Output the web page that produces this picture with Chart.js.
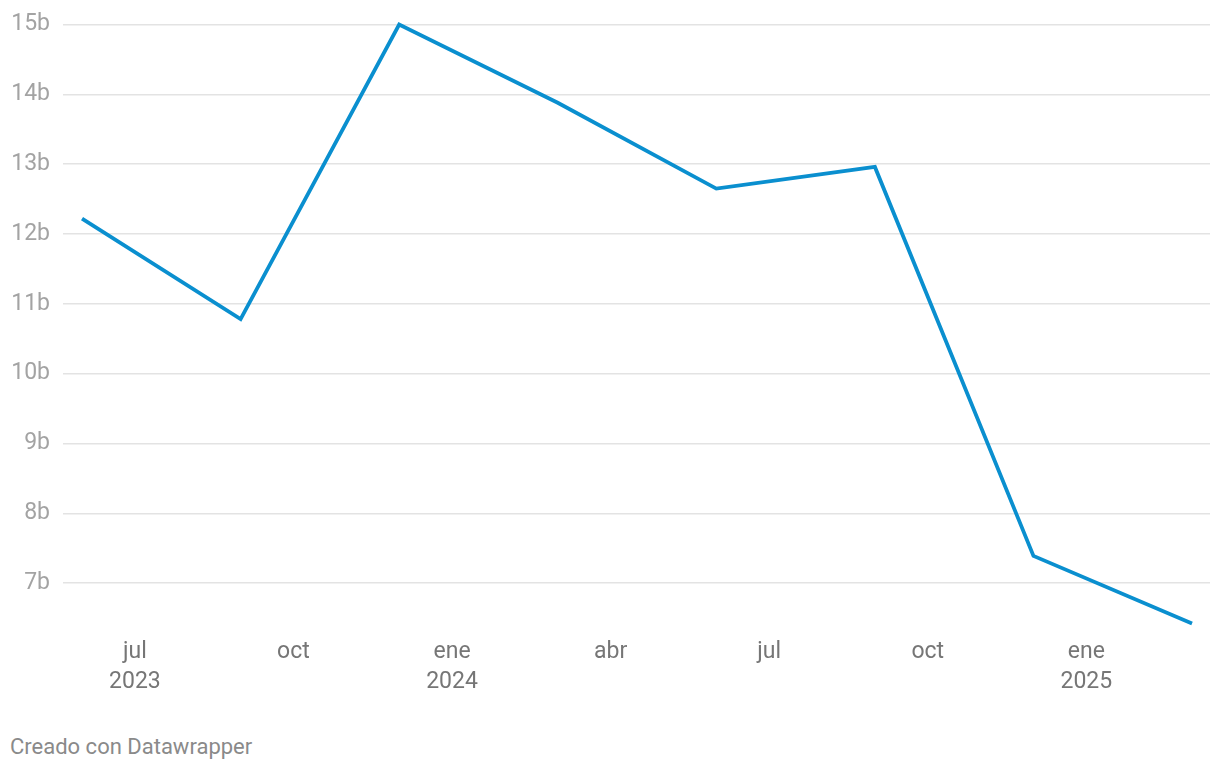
<!DOCTYPE html>
<html>
<head>
<meta charset="utf-8">
<script src="https://cdn.jsdelivr.net/npm/chart.js@4"></script>
<style>
  html, body { margin: 0; padding: 0; background: #fff; }
  #wrap { position: relative; width: 1220px; height: 700px; }
  #credit {
    position: absolute; left: 10px; top: 734px;
    font-family: Roboto, sans-serif; font-size: 22px; color: #8a8a8a;
  }
</style>
</head>
<body>
<div id="wrap"><canvas id="chart"></canvas></div>
<div id="credit">Creado con Datawrapper</div>
<script>
// months counted from jun 2023 (0)
const pointMonths = [0, 3, 6, 9, 12, 15, 18, 21];
const values = [12.22, 10.78, 15.0, 13.88, 12.65, 12.96, 7.39, 6.42];

const tickMonths = [1, 4, 7, 10, 13, 16, 19];
const tickLabels = [['jul', '2023'], 'oct', ['ene', '2024'], 'abr', 'jul', 'oct', ['ene', '2025']];

const yTicks = [7, 8, 9, 10, 11, 12, 13, 14, 15];

const ctx = document.getElementById('chart');

new Chart(ctx, {
  type: 'line',
  data: {
    datasets: [{
      data: pointMonths.map((m, i) => ({ x: m, y: values[i] })),
      borderColor: '#0a8fcf',
      borderWidth: 3.8,
      pointRadius: 0,
      tension: 0,
      fill: false,
      clip: false,
    }],
  },
  options: {
    responsive: true,
    maintainAspectRatio: false,
    animation: false,
    layout: { padding: { top: 24, right: 10, left: 0, bottom: 0 } },
    plugins: {
      legend: { display: false },
      tooltip: { enabled: false },
    },
    scales: {
      x: {
        type: 'linear',
        min: -0.36,
        max: 21.34,
        afterBuildTicks: axis => { axis.ticks = tickMonths.map(v => ({ value: v })); },
        afterFit: scale => { scale.height = 68; },
        grid: { display: false },
        border: { display: false },
        ticks: {
          padding: -3,
          maxRotation: 0,
          autoSkip: false,
          color: '#767676',
          font: { family: 'Roboto', size: 23, lineHeight: 1.3 },
          callback: function(value) {
            const i = tickMonths.indexOf(value);
            return i >= 0 ? tickLabels[i] : '';
          },
        },
      },
      y: {
        min: 6.3,
        max: 15,
        afterBuildTicks: axis => { axis.ticks = yTicks.map(v => ({ value: v })); },
        afterFit: scale => { scale.width = 63; },
        grid: { color: '#e3e3e3', lineWidth: 1.5, drawTicks: false },
        border: { display: false },
        ticks: {
          padding: 13,
          color: '#a3a3a3',
          font: { family: 'Roboto', size: 23, lineHeight: 1 },
          callback: value => value + 'b',
        },
      },
    },
  },
});
</script>
</body>
</html>
